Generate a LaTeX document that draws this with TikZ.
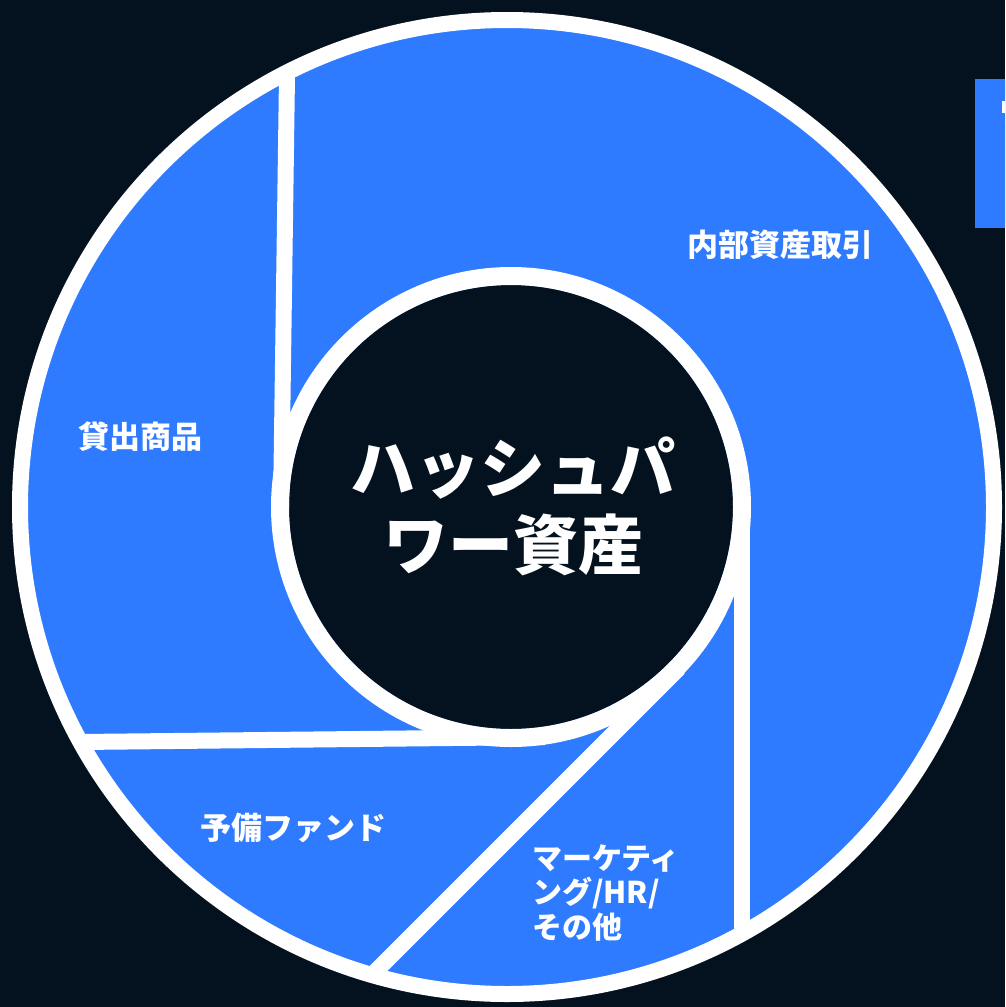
\documentclass[tikz,border=0pt]{standalone}
\usepackage{fontspec}
\newfontfamily\cjk{Noto Sans CJK JP}
\definecolor{bgdark}{HTML}{03121E}
\definecolor{segblue}{HTML}{2E7BFF}
\begin{document}
\begin{tikzpicture}[x=1pt,y=-1pt,
  sep/.style={white,line width=16pt,line cap=butt},
  seglabel/.style={text=white,font=\cjk\bfseries\fontsize{31}{35}\selectfont,inner sep=0pt},
  smalllabel/.style={text=white,font=\cjk\bfseries\fontsize{30}{34.5}\selectfont,inner sep=0pt,align=left},
  titlelabel/.style={text=white,font=\cjk\bfseries\fontsize{65}{77}\selectfont,inner sep=0pt,align=center}]
\useasboundingbox (0,0) rectangle (1005,1007);
\clip (0,0) rectangle (1005,1007);
\fill[bgdark] (0,0) rectangle (1005,1007);
% legend box (cut off at right)
\fill[segblue] (975,79) rectangle (1010,228);
\fill[white] (1002,101) rectangle (1010,113);
% donut
\coordinate (oc) at (507,507);
\coordinate (ic) at (511,507);
\fill[segblue] (oc) circle[radius=487];
\fill[bgdark] (ic) circle[radius=222];
\draw[white,line width=18pt] (ic) circle[radius=231];
% separators (tangent to inner circle)
\coordinate (t1) at (281,507);
\coordinate (e1) at (287,76);
\coordinate (t2) at (545,737);
\coordinate (e2) at (80,742);
\coordinate (t3) at (742,507);
\coordinate (e3) at (742,935);
\coordinate (t4) at (679,668);
\coordinate (e4) at (372,975);
\draw[sep] (t1) -- (e1);
\draw[sep] (t2) -- (e2);
\draw[sep] (t3) -- (e3);
\draw[sep] (t4) -- (e4);
\draw[white,line width=16pt] (oc) circle[radius=487];
% labels
\node[seglabel] (l1) at (780,245) {内部資産取引};
\node[seglabel] (l2) at (140,437) {貸出商品};
\node[seglabel] (l3) at (293,828) {予備ファンド};
\node[smalllabel,anchor=west] (l4) at (532,893) {マーケティ\\ング/HR/\\その他};
\node[titlelabel] (title) at (513,506) {ハッシュパ\\ワー資産};
\end{tikzpicture}
\end{document}
